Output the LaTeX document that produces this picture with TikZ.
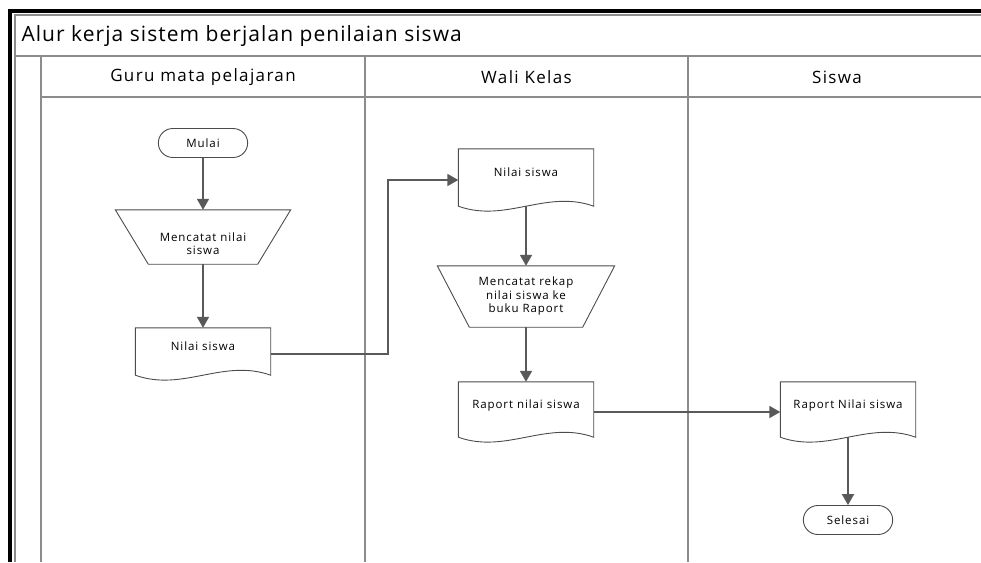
\documentclass[tikz,border=0pt]{standalone}
\usepackage{fontspec}
\setmainfont{Open Sans}[LetterSpace=5]
\newfontfamily\headfont{Open Sans}[LetterSpace=8]
\newfontfamily\shapefont{Open Sans}[LetterSpace=8]
\usetikzlibrary{arrows.meta,positioning,calc,shapes.misc}
\tikzset{
  frame/.style={draw=black, line width=4pt},
  lane/.style={draw=black!45, line width=1.2pt},
  terminal/.style={rounded rectangle, draw=black!70, line width=0.9pt, minimum width=96pt, minimum height=29pt, font=\shapefont\fontsize{11.5}{13.5}\selectfont},
  manual/.style={rectangle, minimum width=175pt, minimum height=54pt, align=center, font=\shapefont\fontsize{11.5}{13.5}\selectfont},
  docnode/.style={rectangle, minimum width=135pt, text height=6pt, text depth=14pt, font=\shapefont\fontsize{11.5}{13.5}\selectfont},
  outline/.style={draw=black!70, line width=0.9pt},
  flow/.style={-{Triangle[length=11pt,width=12pt]}, draw=black!65, line width=1.8pt},
  heading/.style={font=\headfont\fontsize{17}{19}\selectfont}
}
\newcommand{\docshape}[1]{%
  \draw[outline] (#1.north west) -- ($(#1.south west)+(0,5pt)$)
    .. controls ($(#1.south west)!0.35!(#1.south east)+(0,-12pt)$) and ($(#1.south west)!0.65!(#1.south east)+(0,22pt)$) .. ($(#1.south east)+(0,5pt)$)
    -- (#1.north east) -- cycle;}
\newcommand{\manualshape}[2]{%
  \draw[outline] (#1.north west) -- (#1.north east) -- ($(#1.south east)+(-#2,0)$) -- ($(#1.south west)+(#2,0)$) -- cycle;}

\begin{document}
\begin{tikzpicture}[x=1pt,y=-1pt]
  \useasboundingbox (0,0) rectangle (981,562);
  \draw[lane] (15,562) -- (15,15) -- (981,15);
  \draw[lane] (15,56) -- (981,56);
  \draw[lane] (41,97) -- (981,97);
  \draw[lane] (41,56) -- (41,562);
  \draw[lane] (365,56) -- (365,562);
  \draw[lane] (688,56) -- (688,562);
  \draw[frame] (10,562) -- (10,11) -- (981,11);

  \node[anchor=west, font=\fontsize{21}{24}\selectfont] (judul) at (18,36) {Alur kerja sistem berjalan penilaian siswa};
  \node[heading] (guru) at (203,77) {Guru mata pelajaran};
  \node[heading] (wali) at (526.5,77) {Wali Kelas};
  \node[heading] (siswa) at (837,77) {Siswa};

  \node[terminal] (mulai) at (203,143) {Mulai};
  \node[manual] (catat) at (203,237) {\rule{0pt}{22pt}Mencatat nilai\\siswa};
  \node[docnode, minimum height=52pt] (nilai1) at (203,354) {Nilai siswa};
  \node[docnode, minimum height=62pt] (nilai2) at (526,180) {Nilai siswa};
  \node[manual, minimum width=177pt, minimum height=61pt] (rekap) at (526,296.5) {Mencatat rekap\\nilai siswa ke\\buku Raport};
  \node[docnode, minimum height=60pt] (raport1) at (526,412) {Raport nilai siswa};
  \node[docnode, minimum height=60pt] (raport2) at (848,412) {Raport Nilai siswa};
  \node[terminal] (selesai) at (848,520) {Selesai};
  \manualshape{catat}{33pt}
  \manualshape{rekap}{32pt}
  \docshape{nilai1}
  \docshape{nilai2}
  \docshape{raport1}
  \docshape{raport2}

  \draw[flow] (mulai) -- (catat);
  \draw[flow] (catat) -- (nilai1);
  \draw[flow] (nilai1.east) -- ++(117pt,0) |- (nilai2.west);
  \draw[flow] ([yshift=5pt]nilai2.south) -- (rekap);
  \draw[flow] (rekap) -- (raport1);
  \draw[flow] (raport1) -- (raport2);
  \draw[flow] ([yshift=5pt]raport2.south) -- (selesai);
\end{tikzpicture}
\end{document}
